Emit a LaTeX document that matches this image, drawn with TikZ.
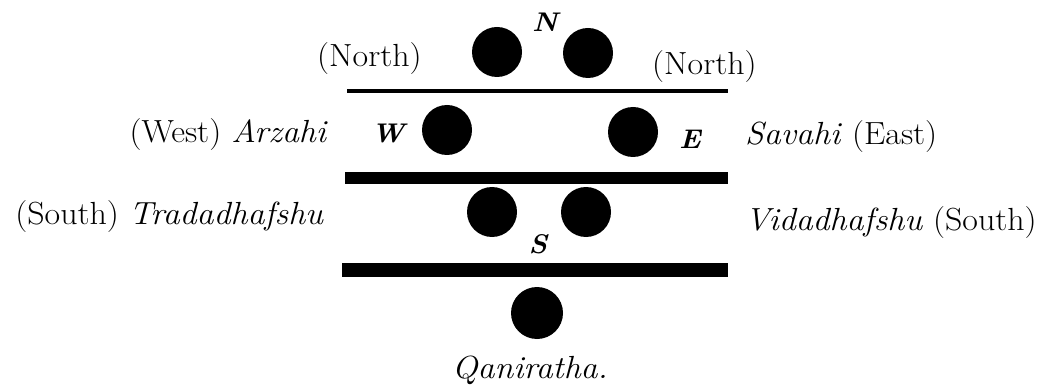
\documentclass[tikz,border=0pt]{standalone}
\usepackage{fontspec}
\setmainfont{Latin Modern Roman}[FakeStretch=1.06]
\usepackage{tikz}
\usetikzlibrary{positioning}

\begin{document}
\begin{tikzpicture}[x=1pt, y=-1pt,
		dot/.style={circle, fill, inner sep=0pt, minimum size=50pt},
		txt/.style={font=\fontsize{32}{37}\selectfont, inner sep=0pt},
		pnt/.style={font=\fontsize{27}{30}\selectfont\bfseries\itshape, inner sep=0pt}]
				\useasboundingbox (0,0) rectangle (1040,387);
				\node[shape=coordinate] (t1) at (347,91.5) {};
				\node[shape=coordinate] (t2) at (728,91.5) {};
				\node[shape=coordinate] (m1) at (345,178) {};
				\node[shape=coordinate] (m2) at (728,178) {};
				\node[shape=coordinate] (b1) at (342,270) {};
				\node[shape=coordinate] (b2) at (728,270) {};
				\draw[line width=4pt] (t1) -- (t2);
				\draw[line width=12pt] (m1) -- (m2);
				\draw[line width=14pt] (b1) -- (b2);
				\node[dot] (n1) at (497,52) {};
				\node[dot] (n2) at (588,53) {};
				\node[dot] (w) at (447,130) {};
				\node[dot] (e) at (633,132) {};
				\node[dot] (s1) at (492,212) {};
				\node[dot] (s2) at (586,212) {};
				\node[dot, minimum size=52pt] (q) at (537,313) {};
				\node[pnt] (nlab) at (545,22) {N};
				\node[pnt] (wlab) at (388,133) {W};
				\node[pnt] (elab) at (690,139) {E};
				\node[pnt] (slab) at (538,244) {S};
				\node[txt, anchor=base west] (northl) at (317,67) {(North)};
				\node[txt, anchor=base west] (northr) at (652,75) {(North)};
				\node[txt, anchor=base east] (west) at (328,143) {(West) \textit{Arzahi}};
				\node[txt, anchor=base west] (east) at (745,145) {\textit{Savahi} (East)};
				\node[txt, anchor=base east] (southl) at (324,225) {(South) \textit{Tradadhafshu}};
				\node[txt, anchor=base west] (southr) at (745,230) {\textit{Vidadhafshu} (South)};
				\node[txt, anchor=base] (qan) at (530,378) {\textit{Qaniratha.}};
			\end{tikzpicture}
\end{document}
